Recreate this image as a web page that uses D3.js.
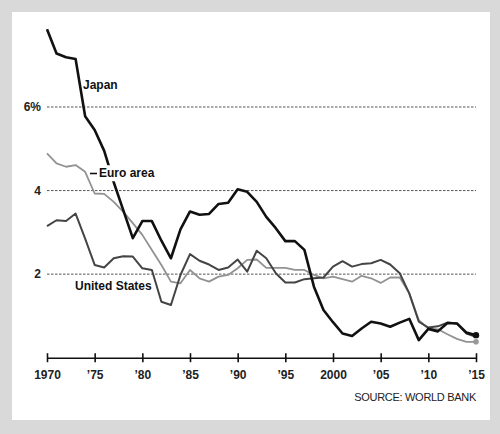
<!DOCTYPE html>
<html>
<head>
<meta charset="utf-8">
<script src="https://cdn.jsdelivr.net/npm/d3@7"></script>
<style>
  html, body { margin: 0; padding: 0; background: #d9d9d9; }
  svg { display: block; font-family: "Liberation Sans", Arial, sans-serif; }
</style>
</head>
<body>
<svg id="chart" width="500" height="434"></svg>
<script>
// ===== DATA =====
const years = d3.range(1970, 2016);
const japan = [7.86, 7.28, 7.19, 7.15, 5.78, 5.45, 4.95, 4.2, 3.53, 2.86,
               3.27, 3.27, 2.8, 2.38, 3.07, 3.5, 3.42, 3.44, 3.68, 3.71,
               4.03, 3.97, 3.73, 3.37, 3.1, 2.79, 2.79, 2.58, 1.7, 1.14,
               0.85, 0.58, 0.52, 0.7, 0.86, 0.82, 0.74, 0.84, 0.93, 0.42,
               0.69, 0.63, 0.83, 0.82, 0.6, 0.54];
const unitedStates = [3.15, 3.29, 3.27, 3.45, 2.85, 2.22, 2.16, 2.38, 2.43, 2.42,
                      2.14, 2.1, 1.34, 1.26, 1.98, 2.48, 2.32, 2.23, 2.1, 2.16,
                      2.35, 2.06, 2.56, 2.38, 2.02, 1.8, 1.8, 1.88, 1.9, 1.92,
                      2.18, 2.31, 2.18, 2.24, 2.26, 2.34, 2.23, 2.02, 1.54, 0.86,
                      0.72, 0.75, 0.84, 0.82, 0.58, 0.5];
const euroArea = [4.89, 4.65, 4.57, 4.61, 4.45, 3.93, 3.92, 3.73, 3.49, 3.22,
                  2.94, 2.58, 2.22, 1.82, 1.78, 2.1, 1.9, 1.82, 1.94, 1.98,
                  2.14, 2.34, 2.35, 2.15, 2.15, 2.15, 2.1, 2.1, 1.98, 1.9,
                  1.94, 1.88, 1.82, 1.96, 1.9, 1.79, 1.92, 1.92, 1.54, 0.9,
                  0.7, 0.68, 0.56, 0.45, 0.38, 0.38];
const xTicks = [1970, 1975, 1980, 1985, 1990, 1995, 2000, 2005, 2010, 2015];
const xTickLabels = ["1970", "’75", "’80", "’85", "’90", "’95", "2000", "’05", "’10", "’15"];
const yTicks = [2, 4, 6];
const yTickLabels = ["2", "4", "6%"];

// ===== LAYOUT =====
const svg = d3.select("#chart");

svg.append("rect")
    .attr("x", 12).attr("y", 12)
    .attr("width", 478).attr("height", 408)
    .attr("fill", "#fff");

const x = d3.scaleLinear().domain([1970, 2015]).range([47, 476]);
const y = d3.scaleLinear().domain([0, 6]).range([357.7, 107]);

// Gridlines
svg.append("g")
    .selectAll("line")
    .data(yTicks)
    .join("line")
    .attr("x1", x(1970)).attr("x2", x(2015))
    .attr("y1", d => y(d)).attr("y2", d => y(d))
    .attr("stroke", "#555")
    .attr("stroke-width", 1)
    .attr("stroke-dasharray", "2.5,1.5");

// Y labels
svg.append("g")
    .selectAll("text")
    .data(yTicks)
    .join("text")
    .attr("x", 41)
    .attr("y", d => y(d))
    .attr("dy", "0.35em")
    .attr("text-anchor", "end")
    .style("font-size", "12px")
    .style("font-weight", "bold")
    .style("fill", "#222")
    .text((d, i) => yTickLabels[i]);

// X axis
const xAxis = d3.axisBottom(x)
    .tickValues(xTicks)
    .tickSize(0)
    .tickPadding(0)
    .tickFormat((d, i) => xTickLabels[i]);

const axisG = svg.append("g")
    .attr("transform", `translate(0, ${y(0)})`)
    .call(xAxis);

axisG.select(".domain")
    .attr("stroke", "#111")
    .attr("stroke-width", 1.6);

axisG.selectAll(".tick line").remove();
axisG.selectAll(".tick").append("line")
    .attr("y1", -4.5).attr("y2", 4.5)
    .attr("stroke", "#111")
    .attr("stroke-width", 1.6);

axisG.selectAll(".tick text")
    .attr("y", 17)
    .attr("dy", "0.35em")
    .style("font-family", "'Liberation Sans', Arial, sans-serif")
    .style("font-size", "12px")
    .style("font-weight", "bold")
    .style("fill", "#222");

// ===== LINES =====
const line = d3.line()
    .x((d, i) => x(years[i]))
    .y(d => y(d));

const series = [
    { name: "Euro area", values: euroArea, color: "#929292", width: 1.8 },
    { name: "United States", values: unitedStates, color: "#444", width: 2 },
    { name: "Japan", values: japan, color: "#111", width: 2.6 }
];

svg.append("g")
    .selectAll("path")
    .data(series)
    .join("path")
    .attr("d", d => line(d.values))
    .attr("fill", "none")
    .attr("stroke", d => d.color)
    .attr("stroke-width", d => d.width)
    .attr("stroke-linejoin", "round");

// End dots
svg.append("circle")
    .attr("cx", x(2015)).attr("cy", y(euroArea[euroArea.length - 1]))
    .attr("r", 2.8).attr("fill", "#999");
svg.append("circle")
    .attr("cx", x(2015)).attr("cy", y(japan[japan.length - 1]))
    .attr("r", 3.2).attr("fill", "#111");

// ===== SERIES LABELS =====
const labels = [
    { text: "Japan", x: 83, y: 85, knockout: false },
    { text: "Euro area", x: 99, y: 173, knockout: true },
    { text: "United States", x: 75, y: 286, knockout: false }
];

const labelG = svg.append("g");
labels.forEach(l => {
    const t = labelG.append("text")
        .attr("x", l.x)
        .attr("y", l.y)
        .attr("dy", "0.35em")
        .style("font-size", "12px")
        .style("font-weight", "bold")
        .style("fill", "#111")
        .text(l.text);
    if (l.knockout) {
        // white box behind the label so the Japan line breaks around it
        const b = t.node().getBBox();
        labelG.insert("rect", "text")
            .attr("x", b.x - 1).attr("y", b.y - 1)
            .attr("width", b.width + 2).attr("height", b.height + 2)
            .attr("fill", "#fff");
    }
});

// leader dash for Euro area
svg.append("line")
    .attr("x1", 90).attr("x2", 97)
    .attr("y1", 173.5).attr("y2", 173.5)
    .attr("stroke", "#111")
    .attr("stroke-width", 1.6);

// Source
svg.append("text")
    .attr("x", 476)
    .attr("y", 397)
    .attr("dy", "0.35em")
    .attr("text-anchor", "end")
    .style("font-size", "11px")
    .style("letter-spacing", "-0.3px")
    .style("fill", "#222")
    .text("SOURCE: WORLD BANK");
</script>
</body>
</html>
